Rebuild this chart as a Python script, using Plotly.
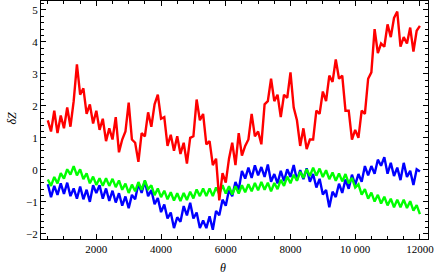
import plotly.graph_objects as go

theta = list(range(500, 12001, 100))

red_dz = [1.55, 1.2, 1.85, 1.15, 1.7, 1.3, 1.95, 1.35, 2.15, 3.3,
          2.35, 2.55, 1.75, 2.05, 1.45, 1.85, 1.25, 1.6, 0.9, 1.3,
          0.95, 1.65, 0.55, 0.95, 1.2, 2.1, 0.95, 0.85, 0.25, 1.15,
          1.05, 1.8, 1.35, 2.05, 2.35, 1.6, 1.65, 0.75, 1.1, 0.6,
          1.05, 0.5, 0.85, 0.2, 1.0, 1.05, 2.2, 1.55, 1.75, 0.8,
          0.9, 0.15, 0.35, -0.95, -0.1, -0.4, 0.35, 0.85, 0.15, 1.15,
          0.45, 0.75, 0.95, 1.75, 1.05, 1.2, 0.8, 2.05, 2.15, 2.85,
          2.15, 2.35, 1.65, 2.35, 2.25, 3.05, 1.95, 1.55, 0.75, 1.3,
          0.65, 0.95, 0.95, 1.85, 1.75, 2.45, 2.15, 2.95, 2.75, 3.45,
          2.85, 2.95, 1.85, 1.85, 0.95, 1.25, 1.0, 1.85, 1.75, 2.85,
          3.05, 4.4, 3.65, 3.95, 3.85, 4.55, 4.15, 4.75, 4.95, 3.85,
          4.15, 3.95, 4.45, 3.7, 4.35, 4.5]

blue_dz = [-0.45, -0.85, -0.5, -0.78, -0.42, -0.75, -0.4, -0.82, -0.58, -0.9,
           -0.52, -0.92, -0.62, -1.0, -0.48, -0.72, -0.48, -0.9, -0.58, -0.97,
           -0.65, -1.02, -0.73, -1.12, -0.83, -1.2, -0.78, -0.92, -0.43, -0.72,
           -0.35, -0.82, -0.63, -1.07, -0.88, -1.32, -1.08, -1.52, -1.33, -1.82,
           -1.48, -1.62, -1.13, -1.42, -1.03, -1.52, -1.33, -1.82, -1.58, -1.82,
           -1.45, -1.87, -1.28, -1.42, -0.93, -1.12, -0.63, -0.82, -0.38, -0.62,
           -0.03, -0.27, 0.07, -0.25, 0.14, -0.17, 0.09, -0.22, 0.17, -0.37,
           -0.13, -0.42, -0.03, -0.35, 0.02, -0.22, 0.15, -0.32, -0.01, -0.29,
           0.05, -0.37, -0.13, -0.55, -0.28, -0.77, -0.63, -1.17, -0.68, -0.85,
           -0.43, -0.72, -0.3, -0.59, -0.15, -0.47, -0.13, -0.37, 0.12, -0.17,
           0.12, -0.12, 0.32, 0.13, 0.4, -0.12, 0.22, -0.19, 0.07, -0.32,
           0.22, -0.22, -0.03, -0.47, 0.02, -0.05]

green_dz = [-0.3, -0.5, -0.22, -0.42, -0.1, -0.27, 0.02, -0.15, 0.12, -0.17,
            0.02, -0.29, -0.11, -0.42, -0.21, -0.47, -0.26, -0.5, -0.26, -0.5,
            -0.28, -0.54, -0.33, -0.62, -0.43, -0.72, -0.46, -0.67, -0.38, -0.62,
            -0.33, -0.6, -0.48, -0.79, -0.58, -0.85, -0.65, -0.92, -0.7, -0.96,
            -0.73, -0.97, -0.72, -0.94, -0.68, -0.89, -0.61, -0.82, -0.58, -0.82,
            -0.58, -0.82, -0.55, -0.75, -0.48, -0.74, -0.51, -0.77, -0.51, -0.74,
            -0.48, -0.7, -0.45, -0.67, -0.41, -0.64, -0.38, -0.62, -0.4, -0.67,
            -0.41, -0.6, -0.31, -0.5, -0.21, -0.42, -0.15, -0.34, -0.06, -0.25,
            0.02, -0.19, 0.07, -0.18, 0.04, -0.22, -0.01, -0.29, -0.08, -0.34,
            -0.11, -0.36, -0.13, -0.42, -0.25, -0.55, -0.45, -0.77, -0.6, -0.9,
            -0.71, -0.99, -0.78, -1.05, -0.84, -1.11, -0.9, -1.17, -0.93, -1.17,
            -0.93, -1.19, -0.98, -1.27, -1.1, -1.38]

x_tickvals = [2000, 4000, 6000, 8000, 10000, 12000]
x_ticktext = ["2000", "4000", "6000", "8000", "10 000", "12000"]
y_tickvals = [-2, -1, 0, 1, 2, 3, 4, 5]
y_ticktext = ["\u22122", "\u22121", "0", "1", "2", "3", "4", "5"]

fig = go.Figure()
fig.add_trace(go.Scatter(x=theta, y=blue_dz, mode="lines",
                         line=dict(color="#0000ff", width=2.4), showlegend=False))
fig.add_trace(go.Scatter(x=theta, y=green_dz, mode="lines",
                         line=dict(color="#00ff00", width=2.4), showlegend=False))
fig.add_trace(go.Scatter(x=theta, y=red_dz, mode="lines",
                         line=dict(color="#ff0000", width=2.4), showlegend=False))

serif = "Liberation Serif, Times New Roman, serif"
tickfont = dict(family=serif, size=11, color="black")

fig.update_layout(
    width=436, height=280,
    margin=dict(l=41, r=8, t=1, b=41),
    paper_bgcolor="white", plot_bgcolor="white",
    hovermode=False,
    xaxis=dict(
        range=[290, 12250], showgrid=False, zeroline=False,
        showline=True, linecolor="black", linewidth=1, mirror="allticks",
        ticks="inside", ticklen=5, tickcolor="black", tickwidth=1,
        tickvals=x_tickvals, ticktext=x_ticktext, tickfont=tickfont,
        ticklabeloverflow="allow",
        minor=dict(dtick=500, tick0=0, ticks="inside", ticklen=3,
                   tickcolor="black", showgrid=False),
    ),
    yaxis=dict(
        range=[-2.16, 5.28], showgrid=False, zeroline=False,
        showline=True, linecolor="black", linewidth=1, mirror="allticks",
        ticks="inside", ticklen=5, tickcolor="black", tickwidth=1,
        tickvals=y_tickvals, ticktext=y_ticktext, tickfont=tickfont,
        minor=dict(dtick=0.2, tick0=0, ticks="inside", ticklen=3,
                   tickcolor="black", showgrid=False),
    ),
    annotations=[
        dict(text="<i>θ</i>", xref="paper", yref="paper", x=0.47, y=-0.12,
             xanchor="center", yanchor="middle", showarrow=False,
             font=dict(family=serif, size=12, color="black")),
        dict(text="<i>δZ</i>", xref="paper", yref="paper", x=-0.075, y=0.51,
             xanchor="center", yanchor="middle", showarrow=False, textangle=-90,
             font=dict(family=serif, size=12, color="black")),
    ],
)

fig.write_html("out.html",
               config={"displayModeBar": False, "staticPlot": True},
               post_script="document.body.style.margin='0';document.body.style.overflow='hidden';")
